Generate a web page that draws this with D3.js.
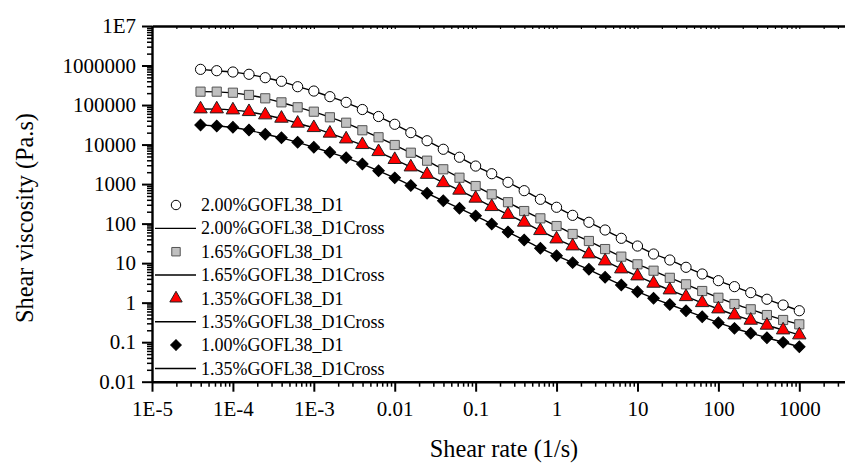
<!DOCTYPE html>
<html>
<head>
<meta charset="utf-8">
<script src="https://cdn.jsdelivr.net/npm/d3@7"></script>
<style>
  html, body { margin: 0; padding: 0; background: #fff; }
  svg { display: block; font-family: "Liberation Serif", "Times New Roman", serif; }
</style>
</head>
<body>
<svg id="chart" width="845" height="464"></svg>
<script>
// Shear rate sweep (1/s)
const shearRate = [
  3.98e-5, 6.31e-5, 1.00e-4, 1.58e-4, 2.51e-4, 3.98e-4, 6.31e-4,
  1.00e-3, 1.58e-3, 2.51e-3, 3.98e-3, 6.31e-3,
  0.0100, 0.0158, 0.0251, 0.0398, 0.0631,
  0.100, 0.158, 0.251, 0.398, 0.631,
  1.00, 1.58, 2.51, 3.98, 6.31,
  10.0, 15.8, 25.1, 39.8, 63.1,
  100, 158, 251, 398, 631, 1000
];

// Shear viscosity (Pa.s) per GO concentration
const visc200 = [
  8.0e5, 7.4e5, 6.85e5, 6.0e5, 4.92e5, 3.99e5, 2.91e5, 2.26e5, 1.63e5, 1.17e5,
  7.7e4, 5.13e4, 3.26e4, 2.0e4, 1.25e4, 7600, 4780, 2860, 1830, 1110,
  681, 412, 259, 162, 108, 68.9, 42.5, 27.1, 17.0, 12.0,
  7.85, 5.31, 3.60, 2.54, 1.79, 1.22, 0.87, 0.625
];
const visc165 = [
  2.18e5, 2.18e5, 2.05e5, 1.80e5, 1.48e5, 1.17e5, 8.77e4, 6.79e4, 4.90e4, 3.57e4,
  2.30e4, 1.53e4, 9750, 6220, 3910, 2370, 1450, 893, 551, 348,
  208, 136, 86.9, 54.6, 36.3, 22.7, 14.6, 9.33, 6.43, 4.25,
  2.91, 1.97, 1.33, 0.925, 0.679, 0.486, 0.364, 0.283
];
const visc135 = [
  7.94e4, 7.94e4, 7.48e4, 6.78e4, 5.60e4, 4.61e4, 3.45e4, 2.67e4, 1.93e4, 1.38e4,
  9930, 6590, 4160, 2700, 1750, 1080, 697, 437, 268, 170,
  108, 66.1, 40.7, 27.1, 17.0, 11.3, 7.10, 4.72, 3.08, 2.09,
  1.41, 0.995, 0.690, 0.486, 0.357, 0.267, 0.203, 0.152
];
const visc100 = [
  3.13e4, 2.95e4, 2.74e4, 2.34e4, 1.82e4, 1.49e4, 1.14e4, 8530, 6370, 4660,
  3220, 2180, 1440, 920, 585, 378, 244, 157, 97.7, 61.2,
  38.5, 23.7, 15.4, 10.3, 6.98, 4.38, 2.79, 1.89, 1.29, 0.897,
  0.625, 0.441, 0.310, 0.224, 0.168, 0.130, 0.0991, 0.0767
];

const seriesNames = ["2.00%GOFL38_D1", "1.65%GOFL38_D1", "1.35%GOFL38_D1", "1.00%GOFL38_D1"];
const fitNames = ["2.00%GOFL38_D1Cross", "1.65%GOFL38_D1Cross", "1.35%GOFL38_D1Cross", "1.35%GOFL38_D1Cross"];

const xTickValues = [1e-5, 1e-4, 1e-3, 0.01, 0.1, 1, 10, 100, 1000];
const xTickLabels = ["1E-5", "1E-4", "1E-3", "0.01", "0.1", "1", "10", "100", "1000"];
const yTickValues = [0.01, 0.1, 1, 10, 100, 1000, 10000, 100000, 1000000, 1e7];
const yTickLabels = ["0.01", "0.1", "1", "10", "100", "1000", "10000", "100000", "1000000", "1E7"];

const svg = d3.select("#chart");

const x = d3.scaleLog().domain([1e-5, 1000]).range([152, 799.3]);
const xFull = x.copy().domain([1e-5, x.invert(845)]).range([152, 845]);
const y = d3.scaleLog().domain([0.01, 1e7]).range([381.7, 26]);

const yTop = y.range()[1], yBot = y.range()[0];
const xLeft = 152;

// minor tick positions for a log axis
function minorTicks(lo, hi) {
  const out = [];
  for (let e = Math.floor(Math.log10(lo)); e <= Math.ceil(Math.log10(hi)); e++) {
    for (let d = 2; d <= 9; d++) {
      const v = d * Math.pow(10, e);
      if (v > lo && v < hi) out.push(v);
    }
  }
  return out;
}

// ---- bottom axis
const xAxis = d3.axisBottom(xFull)
  .tickValues(xTickValues)
  .tickFormat((d, i) => xTickLabels[i])
  .tickSize(10).tickPadding(9).tickSizeOuter(0);
const gx = svg.append("g").attr("transform", `translate(0,${yBot})`).call(xAxis);
gx.select(".domain").attr("stroke-width", 2.4);
gx.selectAll(".tick line").attr("stroke-width", 2);
gx.selectAll("text").attr("font-size", 21).attr("font-family", "Liberation Serif").attr("fill", "#000");
const xMinorAxis = d3.axisBottom(xFull)
  .tickValues(minorTicks(xFull.domain()[0], xFull.domain()[1]))
  .tickFormat("").tickSize(5).tickSizeOuter(0);
const gxm = svg.append("g").attr("transform", `translate(0,${yBot})`).call(xMinorAxis);
gxm.select(".domain").remove();
gxm.selectAll(".tick line").attr("stroke-width", 1.5);

// ---- top axis (inward small ticks)
const xTopAxis = d3.axisBottom(xFull)
  .tickValues(xTickValues.concat(minorTicks(xFull.domain()[0], xFull.domain()[1])))
  .tickFormat("").tickSize(3).tickSizeOuter(0);
const gt = svg.append("g").attr("transform", `translate(0,${yTop})`).call(xTopAxis);
gt.select(".domain").attr("stroke-width", 2.4);
gt.selectAll(".tick line").attr("stroke-width", 1.2);

// ---- left axis
const yAxis = d3.axisLeft(y)
  .tickValues(yTickValues)
  .tickFormat((d, i) => yTickLabels[i])
  .tickSize(10).tickPadding(6).tickSizeOuter(0);
const gy = svg.append("g").attr("transform", `translate(${xLeft},0)`).call(yAxis);
gy.select(".domain").attr("stroke-width", 2.4);
gy.selectAll(".tick line").attr("stroke-width", 2);
gy.selectAll("text").attr("font-size", 21).attr("font-family", "Liberation Serif").attr("fill", "#000");
const yMinorAxis = d3.axisLeft(y)
  .tickValues(minorTicks(0.01, 1e7))
  .tickFormat("").tickSize(5).tickSizeOuter(0);
const gym = svg.append("g").attr("transform", `translate(${xLeft},0)`).call(yMinorAxis);
gym.select(".domain").remove();
gym.selectAll(".tick line").attr("stroke-width", 1.5);

// ---- axis titles
svg.append("text")
  .attr("x", 504).attr("y", 457)
  .attr("text-anchor", "middle")
  .attr("font-size", 24.3)
  .text("Shear rate (1/s)");
svg.append("text")
  .attr("transform", "translate(33,218) rotate(-90)")
  .attr("text-anchor", "middle")
  .attr("font-size", 24.3)
  .text("Shear viscosity (Pa.s)");

// ---- marker shapes (diamond = square turned 45 degrees)
const markerStyles = [
  { type: d3.symbolCircle, size: 82, rot: 0, fill: "#fff", stroke: "#000" },
  { type: d3.symbolSquare, size: 84, rot: 0, fill: "#c0c0c0", stroke: "#555" },
  { type: d3.symbolTriangle, size: 78, rot: 0, fill: "#ff0000", stroke: "#222" },
  { type: d3.symbolSquare, size: 66, rot: 45, fill: "#000", stroke: "#000" }
];

const allSeries = [visc200, visc165, visc135, visc100];

// Cross-model fit curves
const fitLine = d3.line()
  .x((d, i) => x(shearRate[i]))
  .y(d => y(d))
  .curve(d3.curveBasis);

const plot = svg.append("g");
allSeries.forEach((vals) => {
  plot.append("path")
    .attr("d", fitLine(vals))
    .attr("fill", "none")
    .attr("stroke", "#000")
    .attr("stroke-width", 1.4);
});

// measured points
allSeries.forEach((vals, s) => {
  const st = markerStyles[s];
  plot.append("g").selectAll("path")
    .data(vals)
    .join("path")
    .attr("transform", (d, i) => `translate(${x(shearRate[i])},${y(d)}) rotate(${st.rot})`)
    .attr("d", d3.symbol().type(st.type).size(st.size))
    .attr("fill", st.fill)
    .attr("stroke", st.stroke)
    .attr("stroke-width", 1);
});

// ---- legend
const legend = svg.append("g");
const rowY0 = 205, rowStep = 23.35;
seriesNames.forEach((name, s) => {
  const st = markerStyles[s];
  const ry = rowY0 + rowStep * 2 * s;
  legend.append("path")
    .attr("transform", `translate(176,${ry}) rotate(${st.rot})`)
    .attr("d", d3.symbol().type(st.type).size(st.size * 0.85))
    .attr("fill", st.fill).attr("stroke", st.stroke).attr("stroke-width", 1);
  legend.append("text")
    .attr("x", 201).attr("y", ry).attr("dy", "0.34em")
    .attr("font-size", 18)
    .text(name);
  const ly = ry + rowStep;
  legend.append("line")
    .attr("x1", 155).attr("x2", 196).attr("y1", ly).attr("y2", ly)
    .attr("stroke", "#000").attr("stroke-width", 1.4);
  legend.append("text")
    .attr("x", 201).attr("y", ly).attr("dy", "0.34em")
    .attr("font-size", 18)
    .text(fitNames[s]);
});
</script>
</body>
</html>
